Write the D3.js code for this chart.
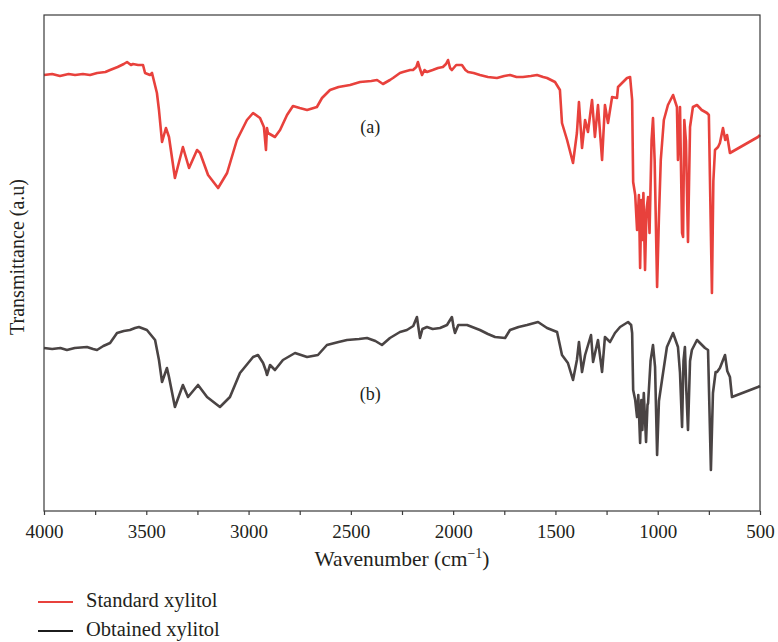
<!DOCTYPE html>
<html>
<head>
<meta charset="utf-8">
<script src="https://cdn.jsdelivr.net/npm/d3@7/dist/d3.min.js"></script>
<style>
  html, body { margin: 0; padding: 0; background: #fff; }
  svg { display: block; }
  text { font-family: "Liberation Serif", "DejaVu Serif", serif; fill: #231f20; }
</style>
</head>
<body>
<svg id="chart" width="778" height="642"></svg>
<script>
// FTIR spectra of xylitol: [wavenumber (cm-1), transmittance (a.u.)]
const standardXylitol = [
  [4000,436],[3960,437],[3922,435],[3880,437],[3848,436],[3810,437],[3775,436],[3740,438],
  [3700,439],[3677,441],[3640,444],[3610,447],[3594,449],[3575,446],[3565,447],[3540,446],
  [3516,446],[3506,438],[3482,436],[3472,438],[3448,418],[3438,401],[3423,369],[3404,383],
  [3389,374],[3360,333],[3321,364],[3291,343],[3252,361],[3237,358],[3198,336],[3149,323],
  [3105,338],[3057,371],[3008,391],[2978,398],[2944,393],[2925,384],[2915,361],[2910,383],
  [2905,378],[2871,374],[2846,381],[2812,396],[2783,405],[2750,403],[2714,401],[2666,404],
  [2641,413],[2602,421],[2560,424],[2504,426],[2455,429],[2400,430],[2372,431],[2343,427],
  [2309,431],[2294,433],[2260,438],[2245,439],[2210,441],[2196,441],[2180,444],[2172,449],
  [2162,442],[2152,436],[2140,441],[2128,439],[2100,441],[2074,443],[2050,444],[2035,447],
  [2025,451],[2015,443],[2006,441],[1985,446],[1957,446],[1940,441],[1927,439],[1900,438],
  [1869,436],[1830,434],[1786,433],[1750,435],[1722,436],[1690,434],[1659,434],[1620,435],
  [1590,436],[1560,434],[1541,433],[1502,429],[1478,421],[1468,388],[1443,371],[1414,348],
  [1395,378],[1385,409],[1370,363],[1355,391],[1341,379],[1321,411],[1307,374],[1292,406],
  [1272,351],[1258,406],[1243,388],[1223,414],[1199,413],[1194,424],[1150,433],[1135,434],
  [1125,411],[1120,329],[1110,316],[1101,281],[1092,316],[1086,243],[1080,311],[1075,271],
  [1070,318],[1062,241],[1055,301],[1047,314],[1040,278],[1030,371],[1023,393],[1015,351],
  [1003,224],[994,294],[985,351],[970,391],[950,406],[925,416],[906,404],[901,351],
  [891,404],[881,278],[876,274],[870,391],[862,370],[852,269],[842,384],[828,404],
  [808,406],[785,401],[759,398],[750,396],[735,218],[728,330],[720,361],[705,364],
  [696,368],[681,383],[670,371],[661,376],[647,358],[510,374],[500,376]
];
const obtainedXylitol = [
  [4000,163],[3960,162],[3920,163],[3888,161],[3850,163],[3790,164],[3760,162],[3741,161],
  [3710,165],[3677,168],[3643,178],[3610,180],[3580,181],[3555,183],[3536,184],[3497,181],
  [3457,171],[3438,151],[3423,129],[3399,143],[3389,134],[3360,104],[3321,126],[3296,114],
  [3247,126],[3203,114],[3140,104],[3091,114],[3042,138],[2978,154],[2954,156],[2929,148],
  [2915,140],[2910,136],[2895,146],[2871,141],[2832,151],[2773,158],[2714,154],[2661,156],
  [2617,166],[2560,169],[2519,171],[2460,172],[2421,173],[2380,170],[2348,166],[2309,173],
  [2260,179],[2226,181],[2195,185],[2177,194],[2170,184],[2162,173],[2150,182],[2128,184],
  [2100,182],[2064,183],[2030,186],[2006,194],[1998,184],[1991,178],[1975,186],[1932,186],
  [1869,181],[1830,177],[1795,174],[1746,173],[1722,181],[1680,184],[1639,186],[1585,189],
  [1541,183],[1492,179],[1468,156],[1439,148],[1414,131],[1395,151],[1385,169],[1370,139],
  [1355,156],[1326,176],[1316,149],[1292,171],[1272,139],[1258,174],[1233,169],[1209,178],
  [1184,184],[1145,189],[1130,186],[1125,178],[1120,121],[1110,111],[1101,94],[1095,116],
  [1086,68],[1080,111],[1075,81],[1068,118],[1057,69],[1050,106],[1047,108],[1035,150],
  [1023,166],[1013,144],[1003,56],[994,110],[979,131],[955,164],[925,178],[901,164],
  [891,138],[881,84],[874,150],[867,164],[860,120],[852,81],[842,150],[833,161],
  [808,171],[769,163],[754,161],[740,41],[730,118],[717,139],[710,139],[696,143],
  [671,156],[660,140],[647,134],[637,114],[510,124],[500,125]
];
const seriesNames = ["Standard xylitol", "Obtained xylitol"];
const seriesColors = ["#e8413c", "#4a4444"];
const legendColors = ["#e8413c", "#1c1c1c"];
const curveTags = ["(a)", "(b)"];
const curveTagPositions = [[2405, 378], [2405, 111]];
const xTicks = [4000, 3500, 3000, 2500, 2000, 1500, 1000, 500];
const xMinorTicks = d3.range(4000, 499, -250);

const svg = d3.select("#chart");
const margin = { left: 44, right: 18, top: 15, bottom: 131 };
const W = 778, H = 642;
const plotW = W - margin.left - margin.right;
const plotH = H - margin.top - margin.bottom;

const x = d3.scaleLinear().domain([4000, 500]).range([margin.left, margin.left + plotW]);
const y = d3.scaleLinear().domain([0, 496]).range([margin.top + plotH, margin.top]);

// Spectra
const line = d3.line().x(d => x(d[0])).y(d => y(d[1])).curve(d3.curveLinear);
[standardXylitol, obtainedXylitol].forEach((data, i) => {
  svg.append("path")
    .datum(data)
    .attr("fill", "none")
    .attr("stroke", seriesColors[i])
    .attr("stroke-width", 2.6)
    .attr("stroke-linejoin", "round")
    .attr("d", line);
});

// Curve tags
curveTags.forEach((t, i) => {
  svg.append("text")
    .attr("x", x(curveTagPositions[i][0]))
    .attr("y", y(curveTagPositions[i][1]))
    .attr("text-anchor", "middle")
    .attr("font-size", 18)
    .text(t);
});

// Frame
svg.append("rect")
  .attr("x", margin.left).attr("y", margin.top)
  .attr("width", plotW).attr("height", plotH)
  .attr("fill", "none").attr("stroke", "#3a3a3a").attr("stroke-width", 1.2);

// Bottom axis
const xAxis = d3.axisBottom(x).tickValues(xMinorTicks).tickSize(4).tickPadding(10)
  .tickFormat(d => xTicks.includes(d) ? d : "");
const gx = svg.append("g")
  .attr("transform", `translate(0,${margin.top + plotH})`)
  .call(xAxis);
gx.select(".domain").remove();
gx.selectAll(".tick line").attr("stroke", "#3a3a3a").attr("stroke-width", 1.2);
gx.selectAll(".tick text")
  .attr("font-size", 19)
  .attr("font-family", "Liberation Serif, serif")
  .attr("fill", "#231f20");

// Axis titles
const xt = svg.append("text")
  .attr("x", margin.left + plotW / 2)
  .attr("y", 566)
  .attr("text-anchor", "middle")
  .attr("font-size", 21.5);
xt.append("tspan").text("Wavenumber (cm");
xt.append("tspan").text("\u22121").attr("font-size", 14).attr("dy", -8);
xt.append("tspan").text(")").attr("dy", 8);

svg.append("text")
  .attr("transform", `translate(24,${margin.top + plotH / 2 - 6}) rotate(-90)`)
  .attr("text-anchor", "middle")
  .attr("font-size", 20)
  .text("Transmittance (a.u)");

// Legend
seriesNames.forEach((name, i) => {
  const ly = 602 + i * 29;
  svg.append("line")
    .attr("x1", 38).attr("x2", 73)
    .attr("y1", ly).attr("y2", ly)
    .attr("stroke", legendColors[i]).attr("stroke-width", 2.2);
  svg.append("text")
    .attr("x", 86).attr("y", ly + 5)
    .attr("font-size", 20.5)
    .text(name);
});
</script>
</body>
</html>
